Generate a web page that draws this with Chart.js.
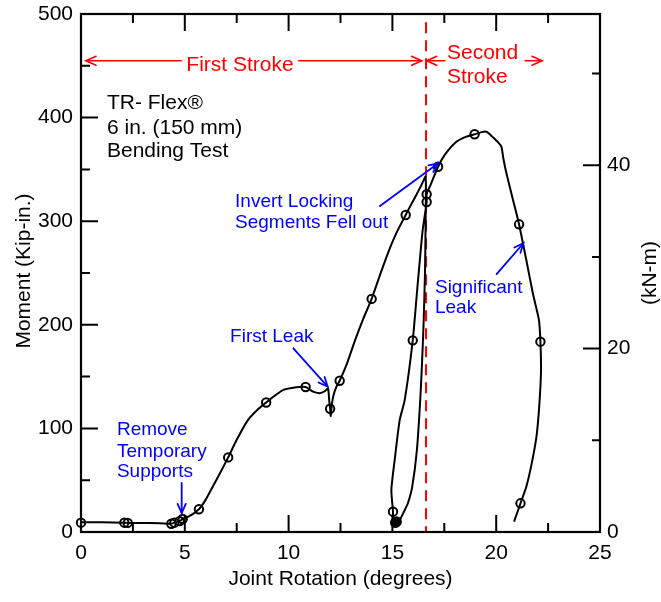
<!DOCTYPE html>
<html><head><meta charset="utf-8">
<script src="https://cdn.jsdelivr.net/npm/chart.js@4.4.0/dist/chart.umd.min.js"></script>
<style>html,body{margin:0;padding:0;background:#fff;}canvas{display:block;}</style>
</head><body>
<canvas id="c" width="661" height="602"></canvas>
<script>
// ---- data ----
const rotation = [0,1.0,2.09,2.25,3.0,3.8,4.35,4.55,4.8,4.87,5.2,5.68,6.0,6.35,6.7,7.09,7.5,8.04,8.5,8.92,9.3,9.73,10.37,10.82,11.05,11.25,11.5,11.75,11.9,11.96,12.0,12.03,12.08,12.15,12.3,12.46,12.8,13.2,13.6,14.0,14.4,14.8,15.2,15.64,15.9,16.17,16.4,16.6,
  16.6,16.57,16.5,16.42,16.34,16.18,15.95,15.75,15.59,15.35,15.14,
  15.03,15.03,14.95,15.11,15.35,15.59,15.98,16.2,16.45,16.65,16.65,16.84,17.2,
  17.52,18.08,18.56,18.96,19.3,19.53,19.69,19.9,20.1,20.25,20.35,20.49,20.81,21.1,21.45,21.77,22.06,22.13,22.16,22.13,22.05,21.94,21.7,21.45,21.17,20.86];
const moment = [9.5,9.3,9,8.8,8.6,8.5,8,9.5,11,12.5,15,22,31,44,57,72,89,108,118,125,131,137,139.7,140,137,135,134,136,138.5,126,119,112,122,131,140,146,162,185,206,225,248,270,289,306,316,326,335,343,
  300,250,200,160,127,79,43,28,21,11.6,9,
  14,19.6,40.5,69.5,108,127,185,235,290,318.5,326,335,352.6,
  364,376.7,381.6,383.9,386,386.4,384,380,376,372,360,346.5,320.5,297,262.5,230,204.6,183.7,160,140,115,92,65,43.7,27.7,10];
const markerRotation = [0,2.09,2.25,4.35,4.5,4.75,4.9,5.68,7.09,8.92,10.82,12.0,12.46,14.0,15.64,16.65,16.65,15.98,15.03,17.2,18.96,21.1,22.13,21.17];
const markerMoment   = [9,9,8.8,8,9,10.5,12.5,22,72,125,140,119,146,225,306,326,318.5,185,19.6,352.6,383.9,297,183.7,27.7];
const filledRotation = [15.14,15.2];
const filledMoment   = [9,10];
const xTicks = [0,5,10,15,20,25];
const yTicks = [0,100,200,300,400,500];
const kNmTicks = [0,20,40];
const KIPIN_PER_KNM = 8.851;
const strokeBoundary = 16.62;

const FONT = '"Liberation Sans", Arial, sans-serif';

// annotation anchors in data units
const notes = [
  {lines:['TR- Flex\u00AE','6 in. (150 mm)','Bending Test'], x:1.25, y:[408.3,384.2,362], color:'#000', size:21},
  {lines:['Remove','Temporary','Supports'], x:1.73, y:[93.6,72.7,52.8], color:'#0000ff', size:19},
  {lines:['First Leak'], x:7.18, y:[183.7], color:'#0000ff', size:19},
  {lines:['Invert Locking','Segments Fell out'], x:7.42, y:[313.4,293.7], color:'#0000ff', size:19},
  {lines:['Significant','Leak'], x:17.05, y:[231,211.1], color:'#0000ff', size:19},
  {lines:['Second','Stroke'], x:17.63, y:[456.3,433.1], color:'#ff0000', size:21}
];
const blueArrows = [
  [4.85,47.3,4.85,18.3],
  [10.23,177.3,11.88,140.4],
  [14.40,314.7,17.21,355.9],
  [20.02,249,21.31,278.7]
];

function arrow(ctx,x1,y1,x2,y2,color,lw,head){
  ctx.save();
  ctx.strokeStyle=color; ctx.lineWidth=lw; ctx.setLineDash([]);
  ctx.lineCap='round';
  ctx.beginPath(); ctx.moveTo(x1,y1); ctx.lineTo(x2,y2); ctx.stroke();
  const a=Math.atan2(y2-y1,x2-x1), s=0.42;
  ctx.beginPath();
  ctx.moveTo(x2-head*Math.cos(a-s), y2-head*Math.sin(a-s));
  ctx.lineTo(x2,y2);
  ctx.lineTo(x2-head*Math.cos(a+s), y2-head*Math.sin(a+s));
  ctx.stroke();
  ctx.restore();
}

const annot = {
  id:'annot',
  beforeDatasetsDraw(chart){
    const {ctx, scales:{x,y}} = chart;
    ctx.save();
    ctx.strokeStyle='#ff0000'; ctx.lineWidth=2; ctx.setLineDash([11,7]);
    ctx.beginPath();
    const px = x.getPixelForValue(strokeBoundary);
    ctx.moveTo(px, y.getPixelForValue(492));
    ctx.lineTo(px, y.getPixelForValue(0));
    ctx.stroke();
    ctx.restore();
  },
  afterDraw(chart){
    const {ctx, chartArea:a, scales:{x,y,y2}} = chart;
    ctx.save();
    // ticks (inward)
    ctx.strokeStyle='#000'; ctx.lineWidth=2;
    ctx.beginPath();
    for(let v=2.5; v<25; v+=2.5){
      const L = (Math.abs(v%5)<1e-6)?17:9;
      const p = x.getPixelForValue(v);
      ctx.moveTo(p,a.bottom); ctx.lineTo(p,a.bottom-L);
      ctx.moveTo(p,a.top); ctx.lineTo(p,a.top+L);
    }
    for(let v=50; v<500; v+=50){
      const L = (v%100===0)?17:9;
      const p = y.getPixelForValue(v);
      ctx.moveTo(a.left,p); ctx.lineTo(a.left+L,p);
    }
    for(let v=10; v<=50; v+=10){
      const L = (v%20===0)?17:8;
      const p = y2.getPixelForValue(v);
      ctx.moveTo(a.right,p); ctx.lineTo(a.right-L,p);
    }
    ctx.stroke();
    // frame
    ctx.lineWidth=2.2;
    ctx.strokeRect(a.left,a.top,a.right-a.left,a.bottom-a.top);

    // axis titles
    ctx.fillStyle='#000';
    ctx.font='21px '+FONT;
    ctx.textAlign='center'; ctx.textBaseline='alphabetic';
    ctx.fillText('Joint Rotation (degrees)', (a.left+a.right)/2, 585);
    ctx.save(); ctx.translate(30,(a.top+a.bottom)/2-2); ctx.rotate(-Math.PI/2);
    ctx.fillText('Moment (Kip-in.)',0,0); ctx.restore();
    ctx.save(); ctx.translate(656,(a.top+a.bottom)/2); ctx.rotate(-Math.PI/2);
    ctx.fillText('(kN-m)',0,0); ctx.restore();

    // text notes
    ctx.textAlign='left';
    notes.forEach(n=>{
      ctx.fillStyle=n.color; ctx.font=n.size+'px '+FONT;
      n.lines.forEach((t,i)=>ctx.fillText(t, x.getPixelForValue(n.x), y.getPixelForValue(n.y[i])));
    });

    // First stroke arrow with text
    ctx.font='21px '+FONT; ctx.fillStyle='#ff0000'; ctx.textAlign='center';
    const fy = y.getPixelForValue(454.9);
    const cx = x.getPixelForValue(7.66);
    ctx.fillText('First Stroke', cx, y.getPixelForValue(445.3));
    const w = ctx.measureText('First Stroke').width;
    arrow(ctx, cx-w/2-5, fy, x.getPixelForValue(0.24), fy, '#ff0000', 1.6, 11);
    arrow(ctx, cx+w/2+5, fy, x.getPixelForValue(16.41), fy, '#ff0000', 1.6, 11);
    arrow(ctx, x.getPixelForValue(17.53), fy, x.getPixelForValue(16.65), fy, '#ff0000', 1.6, 11);
    arrow(ctx, x.getPixelForValue(21.39), fy, x.getPixelForValue(22.21), fy, '#ff0000', 1.6, 11);

    blueArrows.forEach(b=>arrow(ctx, x.getPixelForValue(b[0]), y.getPixelForValue(b[1]), x.getPixelForValue(b[2]), y.getPixelForValue(b[3]), '#0000ff', 1.8, 10));
    ctx.restore();
  }
};

function zeroPad(s){ s.paddingTop=0; s.paddingBottom=0; s.paddingLeft=0; s.paddingRight=0; }
const tickFont = {family:FONT, size:21};
new Chart(document.getElementById('c'), {
  type:'scatter',
  data:{datasets:[
    {label:'filled', data:filledRotation.map((v,i)=>({x:v,y:filledMoment[i]})), showLine:false, pointRadius:4.6, pointBorderWidth:1.5, borderColor:'#000', backgroundColor:'#000', clip:false},
    {label:'markers', data:markerRotation.map((v,i)=>({x:v,y:markerMoment[i]})), showLine:false, pointRadius:4.2, pointBorderWidth:2, borderColor:'#000', backgroundColor:'rgba(255,255,255,0)', clip:false},
    {label:'curve', data:rotation.map((v,i)=>({x:v,y:moment[i]})), showLine:true, pointRadius:0, borderColor:'#000', borderWidth:2, tension:0.2, clip:false}
  ]},
  options:{
    responsive:false, animation:false, devicePixelRatio:1,
    layout:{padding:{top:14,left:0,right:0,bottom:0}},
    plugins:{legend:{display:false}, tooltip:{enabled:false}},
    scales:{
      x:{type:'linear', position:'bottom', min:0, max:25,
        afterFit:s=>{s.height=70; zeroPad(s);},
        afterBuildTicks:s=>{s.ticks=xTicks.map(v=>({value:v}));},
        grid:{display:false, drawTicks:false}, border:{display:false},
        ticks:{font:tickFont, color:'#000', padding:9, autoSkip:false, maxRotation:0}},
      y:{type:'linear', position:'left', min:0, max:500,
        afterFit:s=>{s.width=81; zeroPad(s);},
        afterBuildTicks:s=>{s.ticks=yTicks.map(v=>({value:v}));},
        grid:{display:false, drawTicks:false}, border:{display:false},
        ticks:{font:tickFont, color:'#000', padding:8, autoSkip:false}},
      y2:{type:'linear', position:'right', min:0, max:500/KIPIN_PER_KNM,
        afterFit:s=>{s.width=61; zeroPad(s);},
        afterBuildTicks:s=>{s.ticks=kNmTicks.map(v=>({value:v}));},
        grid:{display:false, drawTicks:false}, border:{display:false},
        ticks:{font:tickFont, color:'#000', padding:7, autoSkip:false}}
    }
  },
  plugins:[annot]
});
</script>
</body></html>
